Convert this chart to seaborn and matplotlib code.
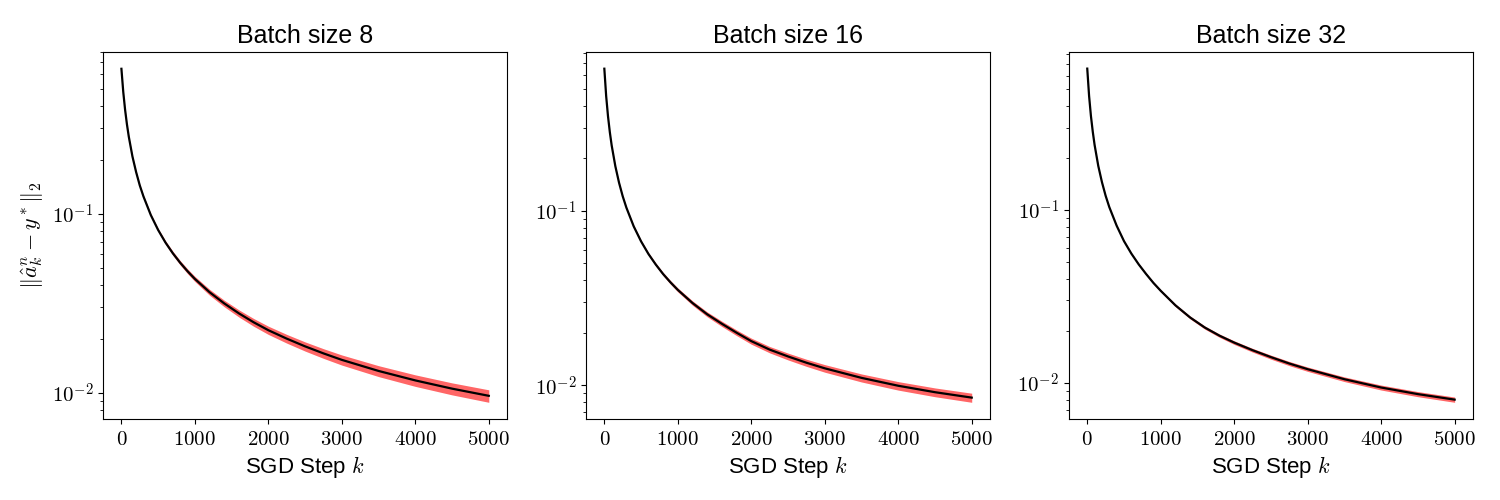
import numpy as np
import pandas as pd
import matplotlib
matplotlib.use("Agg")
import matplotlib.pyplot as plt
import matplotlib.ticker as mticker
import seaborn as sns

# data
steps = [0, 25, 50, 75, 100, 150, 200, 250, 300, 400, 500, 600, 700, 800, 900, 1000,
         1200, 1400, 1600, 1800, 2000, 2250, 2500, 2750, 3000, 3500, 4000, 4500, 5000]

batch_sizes = [8, 16, 32]

err_bs8 = [0.645, 0.479, 0.381, 0.316, 0.270, 0.209, 0.171, 0.144, 0.125, 0.0984, 0.0812,
           0.0691, 0.0602, 0.0533, 0.0478, 0.0433, 0.0365, 0.0316, 0.0278, 0.0248, 0.0224,
           0.0201, 0.0182, 0.01663, 0.0153, 0.01327, 0.01175, 0.01057, 0.00964]
err_bs16 = [0.653, 0.454, 0.348, 0.282, 0.237, 0.180, 0.145, 0.1212, 0.1043, 0.0814, 0.0668,
            0.0566, 0.0492, 0.0434, 0.0389, 0.0352, 0.0296, 0.0255, 0.0225, 0.0200, 0.0179,
            0.0160, 0.01462, 0.01346, 0.0125, 0.01102, 0.00993, 0.00912, 0.00849]
err_bs32 = [0.658, 0.457, 0.350, 0.284, 0.238, 0.180, 0.145, 0.121, 0.104, 0.0812, 0.0661,
            0.0560, 0.0485, 0.0427, 0.0379, 0.0341, 0.0281, 0.0239, 0.0209, 0.01875, 0.0171,
            0.01545, 0.01409, 0.01294, 0.0120, 0.0105, 0.0094, 0.00861, 0.0080]

# relative half-width of the shaded band
spread_bs8 = [0.005, 0.005, 0.006, 0.007, 0.008, 0.01, 0.012, 0.013, 0.015, 0.018, 0.02,
              0.023, 0.026, 0.028, 0.031, 0.033, 0.038, 0.042, 0.046, 0.05, 0.053,
              0.056, 0.059, 0.062, 0.065, 0.07, 0.074, 0.077, 0.08]
spread_bs16 = [0.004, 0.004, 0.005, 0.005, 0.006, 0.008, 0.01, 0.011, 0.012, 0.014, 0.016,
               0.018, 0.02, 0.022, 0.024, 0.026, 0.029, 0.032, 0.035, 0.037, 0.04,
               0.042, 0.045, 0.047, 0.05, 0.053, 0.056, 0.058, 0.06]
spread_bs32 = [0.003, 0.003, 0.004, 0.004, 0.005, 0.006, 0.007, 0.008, 0.008, 0.01, 0.011,
               0.012, 0.013, 0.014, 0.015, 0.016, 0.018, 0.019, 0.021, 0.022, 0.024,
               0.025, 0.027, 0.028, 0.029, 0.031, 0.033, 0.034, 0.035]

errors = [err_bs8, err_bs16, err_bs32]
spreads = [spread_bs8, spread_bs16, spread_bs32]

#~~~~~~~~~~~~~~~~~~~~~~~~~~~~~~~~~~~~~~~~~~~~~~~~~~~~~~~~~~~~~~~~~~~~~~~~~~~~~~#
plt.rcParams['mathtext.fontset'] = 'cm'
sans = ['Liberation Sans', 'DejaVu Sans']

fig, axes = plt.subplots(1, 3, figsize=(15, 5), dpi=100)
fig.subplots_adjust(left=0.0687, right=0.982, top=0.8966, bottom=0.162, wspace=0.195)

for ax, bs, err, spr in zip(axes, batch_sizes, errors, spreads):
    df = pd.DataFrame({'step': steps, 'err': err, 'spread': spr})
    lo = df['err'] * (1 - df['spread'])
    hi = df['err'] * (1 + df['spread'])
    ax.fill_between(df['step'], lo, hi, color='red', alpha=0.6, linewidth=0)
    sns.lineplot(data=df, x='step', y='err', color='black', linewidth=1.6, ax=ax)
    ax.set_yscale('log')
    ax.set_title('Batch size %d' % bs, fontsize=18, family=sans)
    ax.set_xlabel('SGD Step $k$', fontsize=16, family=sans)
    ax.set_ylabel('')
    ax.set_xticks([0, 1000, 2000, 3000, 4000, 5000])
    ax.xaxis.set_major_formatter(mticker.FuncFormatter(lambda v, p: '$%d$' % v))
    ax.yaxis.set_major_locator(mticker.LogLocator(base=10))
    ax.yaxis.set_major_formatter(mticker.FuncFormatter(
        lambda v, p: '$10^{%d}$' % int(round(np.log10(v)))))
    ax.yaxis.set_minor_formatter(mticker.NullFormatter())
    ax.tick_params(labelsize=15)

axes[0].set_ylabel(r'$\|\hat{a}_k^n - y^*\|_2$', fontsize=16)

plt.savefig('out.png', dpi=100)
